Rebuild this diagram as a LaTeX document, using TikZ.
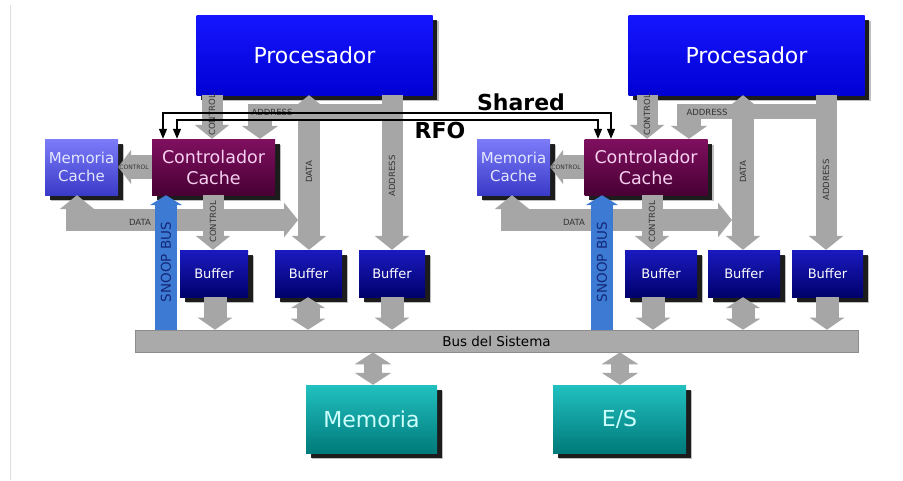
\documentclass[tikz,border=0pt]{standalone}
\usepackage{fontspec}
\setmainfont{DejaVu Sans}
\usetikzlibrary{arrows.meta,shadows}

\definecolor{pipegray}{RGB}{166,166,166}
\definecolor{busgray}{RGB}{170,170,170}
\definecolor{busline}{RGB}{140,140,140}
\definecolor{procTop}{RGB}{22,22,255}
\definecolor{procBot}{RGB}{0,0,212}
\definecolor{ctrlTop}{RGB}{128,16,96}
\definecolor{ctrlBot}{RGB}{72,0,52}
\definecolor{ctrlText}{RGB}{246,208,240}
\definecolor{mcTop}{RGB}{124,124,250}
\definecolor{mcBot}{RGB}{58,58,200}
\definecolor{mcText}{RGB}{228,232,255}
\definecolor{bufTop}{RGB}{26,26,192}
\definecolor{bufBot}{RGB}{0,0,108}
\definecolor{memTop}{RGB}{34,192,192}
\definecolor{memBot}{RGB}{0,122,122}
\definecolor{memText}{RGB}{205,255,255}
\definecolor{snoopblue}{RGB}{60,122,212}
\definecolor{snoopText}{RGB}{20,40,120}
\definecolor{edgeline}{RGB}{222,222,222}

\tikzset{
  box/.style={inner sep=0pt, align=center,
    drop shadow={shadow xshift=6pt, shadow yshift=-6pt, opacity=0.25, fill=black},
    drop shadow={shadow xshift=4.5pt, shadow yshift=-4.5pt, opacity=0.85, fill=black}},
  procbox/.style={box, top color=procTop, bottom color=procBot, text=white,
    minimum width=236pt, minimum height=80pt, font=\fontsize{22}{26}\selectfont},
  ctrlbox/.style={box, top color=ctrlTop, bottom color=ctrlBot, text=ctrlText,
    minimum width=123pt, minimum height=56pt, font=\fontsize{17.5}{21}\selectfont},
  mcbox/.style={box, top color=mcTop, bottom color=mcBot, text=mcText,
    minimum width=73pt, minimum height=56pt, font=\fontsize{15}{17.5}\selectfont},
  bufbox/.style={box, top color=bufTop, bottom color=bufBot, text=white,
    minimum height=47pt, font=\fontsize{13}{15}\selectfont},
  membox/.style={box, top color=memTop, bottom color=memBot, text=memText,
    minimum height=68pt, font=\fontsize{22}{26}\selectfont},
  busbar/.style={fill=busgray, draw=busline, line width=0.6pt, inner sep=0pt,
    minimum width=723pt, minimum height=22pt, font=\fontsize{13.5}{15}\selectfont},
  pipe/.style={draw=pipegray, line width=21pt, line join=miter},
  fatend/.style={-{Triangle[width=34pt,length=14pt]}},
  fatboth/.style={{Triangle[width=34pt,length=14pt]}-{Triangle[width=34pt,length=14pt]}},
  shortboth/.style={{Triangle[width=34pt,length=11pt]}-{Triangle[width=34pt,length=11pt]}},
  snoop/.style={draw=snoopblue, line width=22pt, -{Triangle[width=32pt,length=10pt]}},
  sig/.style={draw=black, line width=1.3pt,
    {Triangle[width=8pt,length=10pt]}-{Triangle[width=8pt,length=10pt]}},
  tiny/.style={inner sep=0pt, text=black!80, font=\fontsize{8.5}{9}\selectfont},
  tinier/.style={inner sep=0pt, text=black!80, font=\fontsize{6}{7}\selectfont},
  snooplabel/.style={inner sep=0pt, rotate=90, text=snoopText, font=\fontsize{13.5}{15}\selectfont},
  siglabel/.style={inner sep=0pt, font=\bfseries\fontsize{22}{26}\selectfont}
}

\begin{document}
\begin{tikzpicture}[x=1pt,y=-1pt]
\useasboundingbox (0,0) rectangle (903,480);
\fill[white] (0,0) rectangle (903,480);
\draw[edgeline, line width=1pt] (10,5) -- (10,480);

% column and row reference points
\coordinate (xCuL) at (212,0);  \coordinate (xCuR) at (647,0);
\coordinate (xAdL) at (260,0);  \coordinate (xAdR) at (689,0);
\coordinate (xDaL) at (309,0);  \coordinate (xDaR) at (743,0);
\coordinate (xAaL) at (392,0);  \coordinate (xAaR) at (826,0);
\coordinate (xCdL) at (213,0);  \coordinate (xCdR) at (652,0);
\coordinate (xMcL) at (77,0);   \coordinate (xMcR) at (512,0);
\coordinate (xSnL) at (166,0);  \coordinate (xSnR) at (602,0);
\coordinate (xB1L) at (215,0);  \coordinate (xB1R) at (653,0);
\coordinate (xB2L) at (308,0);  \coordinate (xB2R) at (743,0);
\coordinate (xB3L) at (392,0);  \coordinate (xB3R) at (827,0);
\coordinate (xMem) at (373,0);  \coordinate (xEs) at (620,0);
\coordinate (xShL) at (163,0);  \coordinate (xShR) at (611,0);
\coordinate (xRfL) at (177,0);  \coordinate (xRfR) at (598,0);
\coordinate (yAd) at (0,111);   \coordinate (yAdTop) at (0,104);
\coordinate (yDa) at (0,220);
\coordinate (ySh) at (0,113);   \coordinate (yRf) at (0,120);
\coordinate (dataJoinL) at (298,220);
\coordinate (dataJoinR) at (732,220);

% system bus
\node[busbar] (bus) at (496.5,341) {Bus del Sistema};

% processors, controllers, caches
\node[procbox] (procL) at (314.5,55) {Procesador};
\node[procbox] (procR) at (746.5,55) {Procesador};
\node[ctrlbox] (ctrlL) at (213.5,167) {Controlador\\Cache};
\node[ctrlbox] (ctrlR) at (646,167) {Controlador\\Cache};
\node[mcbox] (mcL) at (81.5,167) {Memoria\\Cache};
\node[mcbox] (mcR) at (513.5,167) {Memoria\\Cache};

% buffers
\node[bufbox, minimum width=68pt] (bufL1) at (214,273.5) {Buffer};
\node[bufbox, minimum width=67pt] (bufL2) at (308.5,273.5) {Buffer};
\node[bufbox, minimum width=66pt] (bufL3) at (392,273.5) {Buffer};
\node[bufbox, minimum width=72pt] (bufR1) at (661,273.5) {Buffer};
\node[bufbox, minimum width=72pt] (bufR2) at (744,273.5) {Buffer};
\node[bufbox, minimum width=71pt] (bufR3) at (827.5,273.5) {Buffer};

% main memory and I/O
\node[membox, minimum width=131pt] (mem) at (371.5,419) {Memoria};
\node[membox, minimum width=133pt] (es) at (619.5,419) {E/S};

% ---- left node: gray data paths ----
\draw[pipe, line width=15pt] (procL.south -| xAaL) -- (xAaL |- yAd) -- (xAdL |- yAd);
\draw[pipe, line width=24pt, -{Triangle[width=36pt,length=13pt]}] (xAdL |- yAdTop) -- (ctrlL.north -| xAdL);
\draw[pipe, fatend] (procL.south -| xCuL) -- (ctrlL.north -| xCuL);
\draw[pipe, fatend] (procL.south -| xAaL) -- (bufL3.north -| xAaL);
\draw[pipe, line width=22pt, fatboth] (dataJoinL) -- (xMcL |- yDa) -- (mcL.south -| xMcL);
\draw[pipe, line width=22pt, fatboth] (procL.south -| xDaL) -- (bufL2.north -| xDaL);
\draw[pipe, line width=24pt, -{Triangle[width=34pt,length=13pt]}] (ctrlL.west) -- (mcL.east);
\draw[pipe, fatend] (ctrlL.south -| xCdL) -- (bufL1.north -| xCdL);
\draw[pipe, line width=23pt, -{Triangle[width=34pt,length=12pt]}] (bufL1.south -| xB1L) -- (bus.north -| xB1L);
\draw[pipe, line width=23pt, shortboth] (bufL2.south -| xB2L) -- (bus.north -| xB2L);
\draw[pipe, line width=23pt, -{Triangle[width=34pt,length=12pt]}] (bufL3.south -| xB3L) -- (bus.north -| xB3L);

% ---- right node: gray data paths ----
\draw[pipe, line width=15pt] (procR.south -| xAaR) -- (xAaR |- yAd) -- (xAdR |- yAd);
\draw[pipe, line width=24pt, -{Triangle[width=36pt,length=13pt]}] (xAdR |- yAdTop) -- (ctrlR.north -| xAdR);
\draw[pipe, fatend] (procR.south -| xCuR) -- (ctrlR.north -| xCuR);
\draw[pipe, fatend] (procR.south -| xAaR) -- (bufR3.north -| xAaR);
\draw[pipe, line width=22pt, fatboth] (dataJoinR) -- (xMcR |- yDa) -- (mcR.south -| xMcR);
\draw[pipe, line width=22pt, fatboth] (procR.south -| xDaR) -- (bufR2.north -| xDaR);
\draw[pipe, line width=24pt, -{Triangle[width=34pt,length=13pt]}] (ctrlR.west) -- (mcR.east);
\draw[pipe, fatend] (ctrlR.south -| xCdR) -- (bufR1.north -| xCdR);
\draw[pipe, line width=23pt, -{Triangle[width=34pt,length=12pt]}] (bufR1.south -| xB1R) -- (bus.north -| xB1R);
\draw[pipe, line width=23pt, shortboth] (bufR2.south -| xB2R) -- (bus.north -| xB2R);
\draw[pipe, line width=23pt, -{Triangle[width=34pt,length=12pt]}] (bufR3.south -| xB3R) -- (bus.north -| xB3R);

% bus to memory and I/O
\draw[pipe, line width=18pt, {Triangle[width=36pt,length=12pt]}-{Triangle[width=36pt,length=12pt]}] (bus.south -| xMem) -- (mem.north -| xMem);
\draw[pipe, line width=18pt, {Triangle[width=36pt,length=12pt]}-{Triangle[width=36pt,length=12pt]}] (bus.south -| xEs) -- (es.north -| xEs);

% snoop buses
\draw[snoop] (bus.north -| xSnL) -- (ctrlL.south -| xSnL);
\draw[snoop] (bus.north -| xSnR) -- (ctrlR.south -| xSnR);
\node[snooplabel] (snL) at (166,262) {SNOOP BUS};
\node[snooplabel] (snR) at (602,262) {SNOOP BUS};

% path labels
\node[tiny, rotate=90] (lCuL) at (212,115) {CONTROL};
\node[tiny, rotate=90] (lCdL) at (213,222) {CONTROL};
\node[tiny] (lAdL) at (272,112) {ADDRESS};
\node[tiny, rotate=90] (lDaL) at (309,172) {DATA};
\node[tiny, rotate=90] (lAaL) at (392,176) {ADDRESS};
\node[tinier] (lCmL) at (134,167) {CONTROL};
\node[tiny] (lDhL) at (140,222) {DATA};

\node[tiny, rotate=90] (lCuR) at (647,115) {CONTROL};
\node[tiny, rotate=90] (lCdR) at (652,222) {CONTROL};
\node[tiny] (lAdR) at (707,112) {ADDRESS};
\node[tiny, rotate=90] (lDaR) at (743,172) {DATA};
\node[tiny, rotate=90] (lAaR) at (826,180) {ADDRESS};
\node[tinier] (lCmR) at (566,167) {CONTROL};
\node[tiny] (lDhR) at (574,222) {DATA};

% coherence signals between the controllers
\draw[sig] (ctrlL.north -| xShL) -- (xShL |- ySh) -- (xShR |- ySh) -- (ctrlR.north -| xShR);
\draw[sig] (ctrlL.north -| xRfL) -- (xRfL |- yRf) -- (xRfR |- yRf) -- (ctrlR.north -| xRfR);
\node[siglabel] (shared) at (521,102) {Shared};
\node[siglabel] (rfo) at (440,130) {RFO};
\end{tikzpicture}
\end{document}
